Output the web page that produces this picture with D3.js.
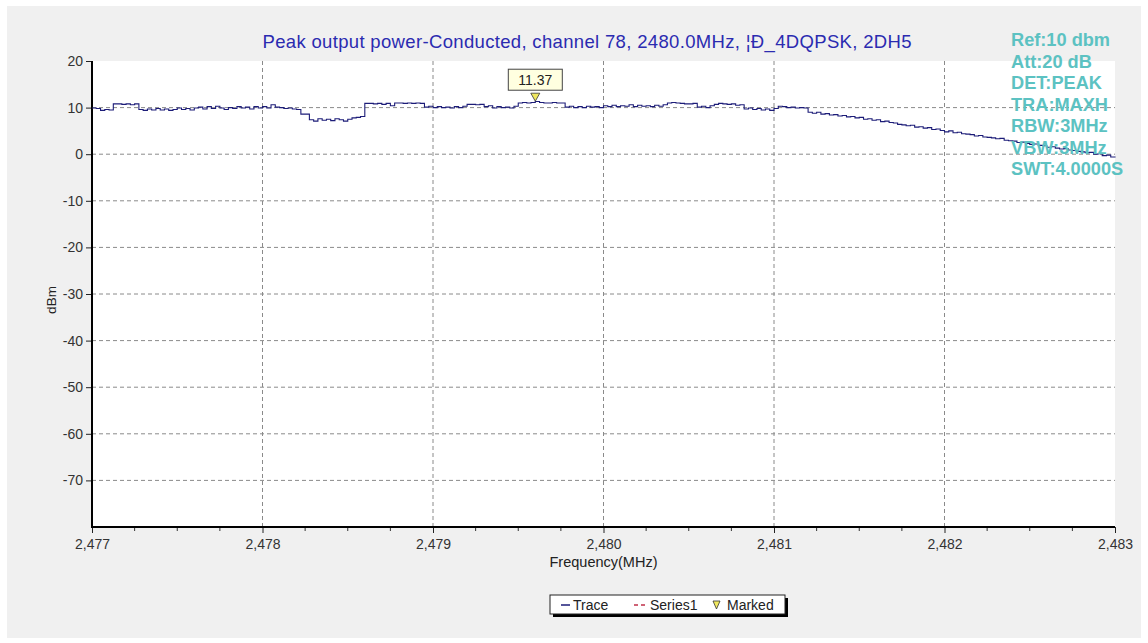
<!DOCTYPE html>
<html>
<head>
<meta charset="utf-8">
<script src="https://cdn.jsdelivr.net/npm/d3@7"></script>
<style>
  body { margin: 0; background: #fff; }
  svg { display: block; font-family: "Liberation Sans", Arial, sans-serif; }
</style>
</head>
<body>
<div id="chart"></div>
<script>
// sweep grid of the analyzer trace (MHz)
const traceStart = 2477;
const traceStep = 0.025;

// measured trace values (dBm), one per sweep point
const tracePower = [
  9.9, 9.8, 9.4, 9.6, 9.5, 10.8, 10.8, 10.7, 10.8, 10.6,
  10.8, 9.6, 9.4, 9.7, 9.5, 9.8, 9.5, 9.7, 9.4, 9.6,
  9.9, 9.6, 9.8, 9.5, 9.9, 10.1, 9.7, 10.2, 9.8, 10.3,
  9.9, 9.6, 10.0, 9.8, 10.2, 9.9, 10.1, 9.7, 10.2, 9.9,
  10.2, 9.9, 10.6, 10.1, 10.0, 9.8, 9.9, 9.7, 9.6, 8.6,
  8.6, 7.4, 7.1, 7.6, 7.3, 7.5, 7.2, 7.6, 7.4, 7.1,
  7.5, 7.8, 7.9, 8.1, 10.9, 10.9, 10.8, 10.9, 10.7, 10.9,
  10.4, 11.0, 11.0, 10.9, 11.0, 10.9, 11.0, 10.9, 10.1, 10.3,
  10.0, 10.2, 10.0, 10.1, 9.9, 10.2, 10.0, 10.3, 10.7, 10.7,
  10.6, 10.7, 10.2, 10.4, 9.9, 10.2, 10.0, 10.1, 9.9, 10.3,
  11.0, 11.1, 11.0, 11.1, 11.3, 11.1, 11.0, 11.0, 11.1, 11.0,
  11.0, 10.1, 10.3, 10.0, 10.2, 10.0, 10.3, 10.1, 10.2, 10.0,
  10.4, 10.2, 10.5, 10.2, 10.4, 10.3, 10.6, 10.2, 10.5, 10.3,
  10.4, 10.2, 10.5, 10.3, 10.6, 11.0, 11.1, 11.0, 10.9, 10.8,
  10.8, 10.9, 10.1, 10.3, 10.0, 10.4, 10.7, 10.9, 10.8, 10.7,
  10.8, 10.5, 10.6, 9.7, 9.9, 9.6, 9.8, 9.5, 9.7, 9.4,
  9.8, 10.3, 10.2, 10.0, 10.1, 9.9, 10.0, 9.9, 9.0, 8.8,
  9.0, 8.6, 8.7, 8.4, 8.5, 8.2, 8.3, 8.0, 8.1, 7.8,
  7.9, 7.5, 7.6, 7.3, 7.4, 7.0, 7.1, 6.8, 6.7, 6.4,
  6.3, 6.1, 6.2, 5.8, 5.9, 5.6, 5.7, 5.3, 5.4, 5.1,
  4.8, 5.0, 4.6, 4.7, 4.4, 4.3, 4.2, 3.9, 4.0, 3.7,
  3.6, 3.5, 3.3, 3.4, 3.0, 2.9, 2.8, 2.5, 2.6, 2.3,
  2.1, 2.2, 1.9, 1.8, 1.5, 1.6, 1.3, 1.1, 1.2, 0.9,
  0.8, 0.6, 0.5, 0.3, 0.4, 0.0, 0.1, -0.3, -0.2, -0.6,
  -0.5
];

const xTicks = [2477, 2478, 2479, 2480, 2481, 2482, 2483];
const yTicks = [20, 10, 0, -10, -20, -30, -40, -50, -60, -70];

const markerFreq = 2479.6;
const markerValue = 11.37;

const titleText = "Peak output power-Conducted, channel 78, 2480.0MHz, ¦Ð_4DQPSK, 2DH5";
const infoLines = ["Ref:10 dbm", "Att:20 dB", "DET:PEAK", "TRA:MAXH", "RBW:3MHz", "VBW:3MHz", "SWT:4.0000S"];
const legendItems = ["Trace", "Series1", "Marked"];

const W = 1148, H = 643;
const margin = { top: 61, right: 33, bottom: 116, left: 92 };
const width = W - margin.left - margin.right;
const height = H - margin.top - margin.bottom;

const svg = d3.select("#chart").append("svg")
  .attr("width", W)
  .attr("height", H);

// background panel
svg.append("rect").attr("width", W).attr("height", H).attr("fill", "#fff");
svg.append("rect")
  .attr("x", 7).attr("y", 6)
  .attr("width", 1134).attr("height", 632)
  .attr("fill", "#f0f0f0");

const g = svg.append("g")
  .attr("transform", `translate(${margin.left},${margin.top})`);

g.append("rect")
  .attr("width", width)
  .attr("height", height)
  .attr("fill", "#fff");

const x = d3.scaleLinear().domain([2477, 2483]).range([0, width]);
const y = d3.scaleLinear().domain([-80, 20]).range([height, 0]);

// grid
g.append("g")
  .selectAll("line")
  .data(yTicks.filter((d) => d < 20))
  .join("line")
  .attr("x1", 0).attr("x2", width)
  .attr("y1", (d) => y(d)).attr("y2", (d) => y(d))
  .attr("stroke", "#8a8a8a")
  .attr("stroke-dasharray", "4,3");

g.append("g")
  .selectAll("line")
  .data(xTicks.slice(1, -1))
  .join("line")
  .attr("x1", (d) => x(d)).attr("x2", (d) => x(d))
  .attr("y1", 0).attr("y2", height)
  .attr("stroke", "#8a8a8a")
  .attr("stroke-dasharray", "4,3");

// y axis (plain hyphen for negatives, like the original)
const yAxis = d3.axisLeft(y)
  .tickValues(yTicks)
  .tickSize(6)
  .tickPadding(3)
  .tickFormat((d) => String(d));
const yAxisGroup = g.append("g").call(yAxis);
yAxisGroup.select(".domain").remove();
yAxisGroup.selectAll("text")
  .attr("font-size", 14)
  .attr("fill", "#333")
  .attr("font-family", "Liberation Sans, Arial, sans-serif");
yAxisGroup.selectAll("line").attr("stroke", "#222");

// x axis: minor ticks then major ticks
const minorTicks = d3.range(2477, 2483.001, 0.25).filter((d) => Math.abs(d - Math.round(d)) > 0.01);
g.append("g")
  .attr("transform", `translate(0,${height})`)
  .selectAll("line")
  .data(minorTicks)
  .join("line")
  .attr("x1", (d) => x(d)).attr("x2", (d) => x(d))
  .attr("y1", 0).attr("y2", 4)
  .attr("stroke", "#333");

const xAxis = d3.axisBottom(x)
  .tickValues(xTicks)
  .tickSize(6)
  .tickPadding(6)
  .tickFormat(d3.format(",d"));
const xAxisGroup = g.append("g")
  .attr("transform", `translate(0,${height})`)
  .call(xAxis);
xAxisGroup.select(".domain").remove();
xAxisGroup.selectAll("text")
  .attr("font-size", 14)
  .attr("fill", "#333")
  .attr("font-family", "Liberation Sans, Arial, sans-serif");
xAxisGroup.selectAll("line").attr("stroke", "#222");

// axis lines
g.append("line")
  .attr("x1", 0).attr("x2", 0)
  .attr("y1", 0).attr("y2", height + 1)
  .attr("stroke", "#000").attr("stroke-width", 2);
g.append("line")
  .attr("x1", -1).attr("x2", width)
  .attr("y1", height).attr("y2", height)
  .attr("stroke", "#000").attr("stroke-width", 2);

// trace
const line = d3.line()
  .x((d, i) => x(traceStart + i * traceStep))
  .y((d) => y(d))
  .curve(d3.curveStepAfter);

g.append("path")
  .datum(tracePower)
  .attr("d", line)
  .attr("fill", "none")
  .attr("stroke", "#1c1c78")
  .attr("stroke-width", 1.1);

// marker
const mx = x(markerFreq), my = y(markerValue);
g.append("path")
  .attr("d", `M${mx - 4.5},${my - 8}L${mx + 4.5},${my - 8}L${mx},${my}Z`)
  .attr("fill", "#f0e860")
  .attr("stroke", "#333")
  .attr("stroke-width", 0.8);
g.append("rect")
  .attr("x", mx - 27).attr("y", my - 32)
  .attr("width", 54).attr("height", 21)
  .attr("fill", "#ffffe0")
  .attr("stroke", "#444");
g.append("text")
  .attr("x", mx).attr("y", my - 16)
  .attr("text-anchor", "middle")
  .attr("font-size", 14)
  .attr("fill", "#222")
  .text(markerValue.toFixed(2));

// title
svg.append("text")
  .attr("x", 587).attr("y", 48)
  .attr("text-anchor", "middle")
  .attr("font-size", 18.5)
  .attr("textLength", 649)
  .attr("lengthAdjust", "spacing")
  .attr("fill", "#2b2bb0")
  .text(titleText);

// axis titles
svg.append("text")
  .attr("x", margin.left + x(2480)).attr("y", 567)
  .attr("text-anchor", "middle")
  .attr("font-size", 14.5)
  .attr("fill", "#222")
  .text("Frequency(MHz)");

svg.append("text")
  .attr("transform", "translate(56,300) rotate(-90)")
  .attr("text-anchor", "middle")
  .attr("font-size", 13.5)
  .attr("fill", "#222")
  .text("dBm");

// instrument settings
svg.append("g")
  .selectAll("text")
  .data(infoLines)
  .join("text")
  .attr("x", 1011)
  .attr("y", (d, i) => 46 + i * 21.5)
  .attr("font-size", 18.2)
  .attr("font-weight", "bold")
  .attr("fill", "#5cc2c2")
  .text((d) => d);

// legend
const lg = svg.append("g").attr("transform", "translate(550,595)");
lg.append("rect").attr("x", 3).attr("y", 3).attr("width", 235).attr("height", 19).attr("fill", "#000");
lg.append("rect").attr("width", 235).attr("height", 19).attr("fill", "#fff").attr("stroke", "#222");
lg.append("line").attr("x1", 11).attr("x2", 20).attr("y1", 10).attr("y2", 10)
  .attr("stroke", "#1c1c78").attr("stroke-width", 1.5);
lg.append("line").attr("x1", 84).attr("x2", 96).attr("y1", 10).attr("y2", 10)
  .attr("stroke", "#c0304a").attr("stroke-width", 1.5).attr("stroke-dasharray", "4,3");
lg.append("path")
  .attr("d", "M163,6L170,6L166.5,14Z")
  .attr("fill", "#f0e860").attr("stroke", "#333").attr("stroke-width", 0.8);
lg.selectAll("text.item")
  .data(legendItems)
  .join("text")
  .attr("class", "item")
  .attr("x", (d, i) => [23, 100, 177][i])
  .attr("y", 15)
  .attr("font-size", 14)
  .attr("fill", "#222")
  .text((d) => d);
</script>
</body>
</html>
